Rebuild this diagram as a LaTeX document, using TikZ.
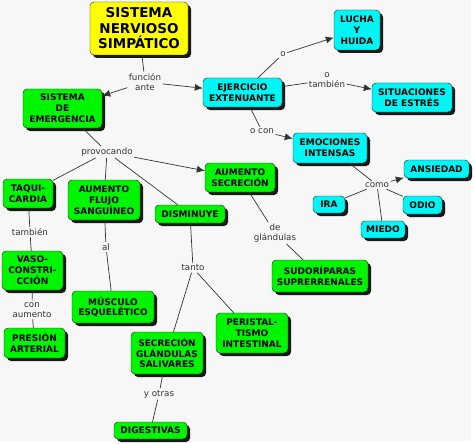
\documentclass[tikz,border=0pt]{standalone}
\usepackage{fontspec}
\setmainfont{DejaVu Sans}
\usetikzlibrary{arrows.meta,shadows}

\definecolor{mapyellow}{HTML}{FFFF00}
\definecolor{mapgreen}{HTML}{00F500}
\definecolor{mapcyan}{HTML}{00F5F5}
\definecolor{mapback}{HTML}{F7F7F7}
\newcommand\titlefontstyle{\fontsize{13.5}{15.5}\selectfont\bfseries}
\newcommand\conceptfontstyle{\fontsize{9}{10.8}\selectfont\bfseries}
\newcommand\linkfontstyle{\fontsize{8.7}{10.2}\selectfont}

\tikzset{
  concept/.style={draw=black!85, rounded corners=4pt, align=center, inner sep=1pt,
    font=\conceptfontstyle,
    drop shadow={shadow xshift=3pt, shadow yshift=-3pt, fill=black!90, opacity=1}},
  titlebox/.style={concept, fill=mapyellow, font=\titlefontstyle},
  greenbox/.style={concept, fill=mapgreen},
  cyanbox/.style={concept, fill=mapcyan},
  linktext/.style={align=center, inner sep=1.5pt, font=\linkfontstyle, text=black!80},
  link/.style={draw=black!80, line width=0.7pt},
  linkarrow/.style={link, -{Latex[length=8pt,width=7pt]}},
}

\begin{document}
\begin{tikzpicture}[x=1pt, y=-1pt]
  \useasboundingbox (0,0) rectangle (474,444);
  \fill[mapback] (0,0) rectangle (471,441);

  \node[titlebox, minimum width=98pt, minimum height=53pt] (sns) at (139,28.5) {SISTEMA\\NERVIOSO\\SIMPÁTICO};
  \node[greenbox, minimum width=79pt, minimum height=39pt] (emergencia) at (62.5,108.5) {SISTEMA\\DE\\EMERGENCIA};
  \node[cyanbox, minimum width=79pt, minimum height=29pt] (ejercicio) at (242.5,92.5) {EJERCICIO\\EXTENUANTE};
  \node[cyanbox, minimum width=46pt, minimum height=40pt] (lucha) at (357,30) {LUCHA\\Y\\HUIDA};
  \node[cyanbox, minimum width=80pt, minimum height=29pt] (situaciones) at (412,97.5) {SITUACIONES\\DE ESTRÉS};
  \node[cyanbox, minimum width=74pt, minimum height=30pt] (emociones) at (330,148) {EMOCIONES\\INTENSAS};
  \node[cyanbox, minimum width=65pt, minimum height=18pt] (ansiedad) at (436.5,169) {ANSIEDAD};
  \node[cyanbox, minimum width=32pt, minimum height=17pt] (ira) at (329,204.5) {IRA};
  \node[cyanbox, minimum width=39pt, minimum height=18pt] (odio) at (422.5,205) {ODIO};
  \node[cyanbox, minimum width=44pt, minimum height=17pt] (miedo) at (383,229.5) {MIEDO};
  \node[greenbox, minimum width=70pt, minimum height=29pt] (aumsecrecion) at (240,177.5) {AUMENTO\\SECRECIÓN};
  \node[greenbox, minimum width=96pt, minimum height=32pt] (sudoriparas) at (320,276) {SUDORÍPARAS\\SUPRERRENALES};
  \node[greenbox, minimum width=50pt, minimum height=29pt] (taquicardia) at (28,193.5) {TAQUI-\\CARDIA};
  \node[greenbox, minimum width=72pt, minimum height=40pt] (flujo) at (104,200) {AUMENTO\\FLUJO\\SANGUÍNEO};
  \node[greenbox, minimum width=70pt, minimum height=18pt] (disminuye) at (190,214) {DISMINUYE};
  \node[greenbox, minimum width=61pt, minimum height=39pt] (vaso) at (32.5,270.5) {VASO-\\CONSTRI-\\CCIÓN};
  \node[greenbox, minimum width=61pt, minimum height=30pt] (presion) at (34.5,343) {PRESIÓN\\ARTERIAL};
  \node[greenbox, minimum width=82pt, minimum height=32pt] (musculo) at (113,307) {MÚSCULO\\ESQUELÉTICO};
  \node[greenbox, minimum width=72pt, minimum height=42pt] (salivares) at (167,353) {SECRECIÓN\\GLÁNDULAS\\SALIVARES};
  \node[greenbox, minimum width=73pt, minimum height=17pt] (digestivas) at (150.5,430.5) {DIGESTIVAS};
  \node[greenbox, minimum width=72pt, minimum height=40pt] (peristaltismo) at (252,333) {PERISTAL-\\TISMO\\INTESTINAL};

  \node[linktext] (funcion) at (145,82) {función\\ante};
  \node[linktext] (o) at (283,54) {o};
  \node[linktext] (otambien) at (327,80) {o\\también};
  \node[linktext] (ocon) at (262,131) {o con};
  \node[linktext] (como) at (377,185) {como};
  \node[linktext] (provocando) at (107,152) {provocando};
  \node[linktext] (deglandulas) at (275,233) {de\\glándulas};
  \node[linktext] (tambien) at (30,232) {también};
  \node[linktext] (al) at (106,247) {al};
  \node[linktext] (tanto) at (193,268) {tanto};
  \node[linktext] (conaumento) at (32,310) {con\\aumento};
  \node[linktext] (yotras) at (159,394) {y otras};

  \draw[link] (sns) -- (funcion);
  \draw[linkarrow] (funcion) -- (emergencia);
  \draw[linkarrow] (funcion) -- (ejercicio);
  \draw[link] (ejercicio) -- (o);
  \draw[linkarrow] (o) -- (lucha);
  \draw[link] (ejercicio) -- (otambien);
  \draw[linkarrow] (otambien) -- (situaciones);
  \draw[link] (ejercicio) -- (ocon);
  \draw[linkarrow] (ocon) -- (emociones);
  \draw[link] (emociones) -- (como);
  \draw[linkarrow] (como) -- (ansiedad);
  \draw[link] (como) -- (ira);
  \draw[link] (como) -- (odio);
  \draw[link] (como) -- (miedo);
  \draw[link] (emergencia) -- (provocando);
  \draw[link] (provocando) -- (taquicardia);
  \draw[link] (provocando) -- (flujo);
  \draw[link] (provocando) -- (disminuye);
  \draw[linkarrow] (provocando) -- (aumsecrecion);
  \draw[link] (taquicardia) -- (tambien) -- (vaso);
  \draw[link] (vaso) -- (conaumento) -- (presion);
  \draw[link] (flujo) -- (al) -- (musculo);
  \draw[link] (disminuye) -- (tanto) -- (salivares);
  \draw[link] (tanto) -- (peristaltismo);
  \draw[link] (salivares) -- (yotras) -- (digestivas);
  \draw[link] (aumsecrecion) -- (deglandulas) -- (sudoriparas);
\end{tikzpicture}
\end{document}
